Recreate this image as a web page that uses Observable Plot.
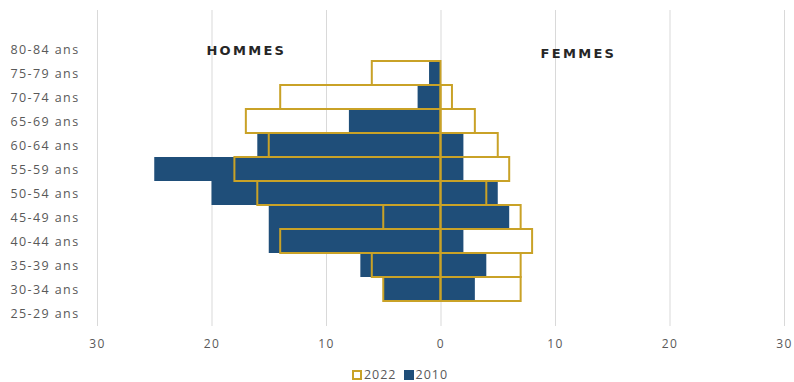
<!DOCTYPE html>
<html>
<head>
<meta charset="utf-8">
<script src="https://cdn.jsdelivr.net/npm/d3@7"></script>
<script src="https://cdn.jsdelivr.net/npm/@observablehq/plot@0.6"></script>
<style>
  html, body { margin: 0; padding: 0; background: #fff; overflow: hidden; }
  #chart { width: 794px; }
  .legend { display: flex; justify-content: center; align-items: center; gap: 7px;
            font: 12.5px "Open Sans", sans-serif; line-height: 15px; letter-spacing: 1px;
            color: #595959; height: 15px; padding-top: 3px; margin-left: 6px; }
  .legend span.item { display: inline-flex; align-items: center; gap: 2px; }
  .sw { display: inline-block; width: 10px; height: 10px; box-sizing: border-box; }
  g[aria-label="y-axis tick label"] text { letter-spacing: 1.4px; }
  g[aria-label="x-axis tick label"] text { letter-spacing: 1.5px; }
  .side-label text { letter-spacing: 2.3px; font-family: "DejaVu Sans", sans-serif; font-weight: bold; }
</style>
</head>
<body>
<div id="chart"></div>
<script>
// Age groups, oldest at the top
const ages = ["80-84 ans", "75-79 ans", "70-74 ans", "65-69 ans", "60-64 ans", "55-59 ans",
              "50-54 ans", "45-49 ans", "40-44 ans", "35-39 ans", "30-34 ans", "25-29 ans"];

// Headcounts per age group
const hommes2022 = [0, 6, 14, 17, 15, 18, 16, 5, 14, 6, 5, 0];
const hommes2010 = [0, 1, 2, 8, 16, 25, 20, 15, 15, 7, 5, 0];
const femmes2022 = [0, 0, 1, 3, 5, 6, 4, 7, 8, 7, 7, 0];
const femmes2010 = [0, 0, 0, 0, 2, 2, 5, 6, 2, 4, 3, 0];

const xTicks = [-30, -20, -10, 0, 10, 20, 30];
const sideLabels = ["HOMMES", "FEMMES"];
const sideLabelX = [-17, 12];

const years = ["2022", "2010"];
const colors = {"2022": "#c9a227", "2010": "#1f4e79"};

// Men on the left (negative), women on the right (positive)
function rows(values, sign) {
  return ages.map((age, i) => ({age, value: sign * values[i]})).filter(d => d.value !== 0);
}
const bars2010 = [...rows(hommes2010, -1), ...rows(femmes2010, 1)];
const bars2022 = [...rows(hommes2022, -1), ...rows(femmes2022, 1)];

// Side headings sit in the top (empty) age row
const sideText = (i, dy) => Plot.text([{label: sideLabels[i], x: sideLabelX[i], age: ages[0]}], {
  x: "x", y: "age", text: "label", dy, className: "side-label",
  fontSize: 13, fill: "#262626"
});

const chart = Plot.plot({
  width: 794,
  height: 364,
  marginLeft: 97,
  marginRight: 10,
  marginTop: 35,
  marginBottom: 38,
  style: {fontFamily: "'Open Sans', sans-serif", fontSize: "11px", color: "#595959", background: "#fff"},
  x: {domain: [-30, 30], ticks: xTicks, tickFormat: d => Math.abs(d), label: null},
  y: {domain: ages, padding: 0, label: null},
  marks: [
    Plot.ruleX(xTicks, {stroke: "#d9d9d9", strokeWidth: 1, insetTop: -25}),
    Plot.barX(bars2010, {x1: 0, x2: "value", y: "age", fill: colors["2010"]}),
    Plot.barX(bars2022, {x1: 0, x2: "value", y: "age", fill: "none",
                         stroke: colors["2022"], strokeWidth: 2}),
    Plot.axisX({ticks: xTicks, tickFormat: d => Math.abs(d), tickSize: 0, tickPadding: 13,
                fontSize: 12, fill: "#595959", label: null}),
    Plot.axisY({tickSize: 0, tickPadding: 16, textAnchor: "start", dx: -71,
                fontSize: 12.5, fill: "#595959", label: null}),
    sideText(0, 1),
    sideText(1, 4)
  ]
});
document.getElementById("chart").append(chart);

// Legend below the chart
const legend = d3.select("#chart").append("div").attr("class", "legend");
years.forEach(y => {
  const item = legend.append("span").attr("class", "item");
  const sw = item.append("span").attr("class", "sw");
  if (y === "2022") sw.style("border", `2px solid ${colors[y]}`).style("background", "#fff");
  else sw.style("background", colors[y]);
  item.append("span").text(y);
});
</script>
</body>
</html>
